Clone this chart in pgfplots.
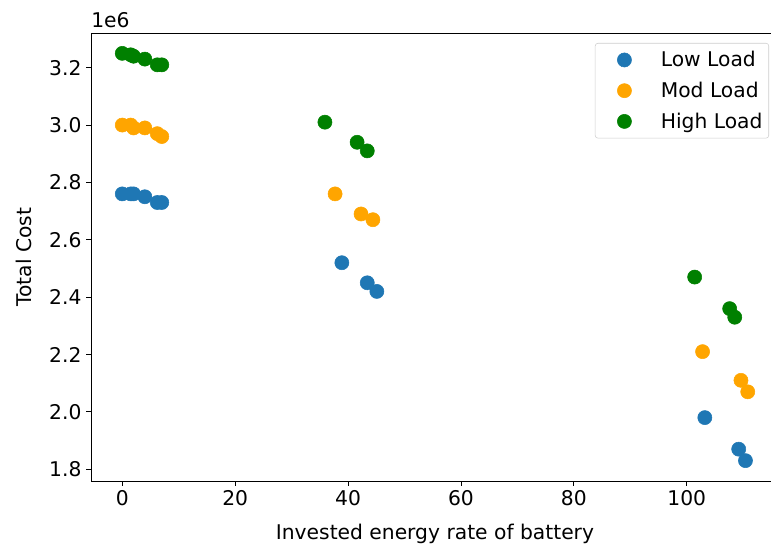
\documentclass[border=0pt]{standalone}
\usepackage{fontspec}
\setmainfont{DejaVu Sans}
\usepackage{pgfplots}
\pgfplotsset{compat=1.18}
\definecolor{cLow}{HTML}{1F77B4}
\definecolor{cMod}{HTML}{FFA500}
\definecolor{cHigh}{HTML}{008000}
\newcommand{\fs}{\fontsize{15.2}{18}\selectfont}
\begin{document}
\begin{tikzpicture}
\begin{axis}[
  at={(0,0)}, anchor=south west,
  scale only axis, width=516pt, height=336pt,
  clip mode=individual,
  xmin=-5.54, xmax=116.34, ymin=1759000, ymax=3321000,
  xtick={0,20,40,60,80,100},
  ytick={1800000,2000000,2200000,2400000,2600000,2800000,3000000,3200000},
  scaled y ticks=base 10:-6,
  ytick scale label code/.code={},
  yticklabel style={/pgf/number format/.cd,fixed,fixed zerofill,precision=1},
  /pgf/number format/assume math mode=true,
  tick align=outside, major tick length=3.65pt,
  tick style={black, line width=0.6pt},
  axis line style={black, line width=0.6pt},
  xtick pos=bottom, ytick pos=left,
  tick label style={font=\fs},
  label style={font=\fs},
  xlabel={Invested energy rate of battery},
  ylabel={Total Cost},
  xlabel style={yshift=-6.5pt},
  ylabel style={yshift=6pt},
  legend cell align=left,
  % marker with empty room to its left, as in the reference legend
  legend image code/.code={\path[#1] plot coordinates {(0pt,0pt)}; \path (-19pt,0pt);},
  legend style={at={(axis description cs:1,1)}, anchor=north east,
    xshift=-7.5pt, yshift=-7.5pt, draw=black!20, rounded corners=2pt,
    font=\fs, row sep=6pt, inner xsep=2.7pt, inner ysep=4pt,
    /tikz/every odd column/.append style={column sep=20pt}},
  every axis plot/.append style={only marks, mark=*, mark size=5.3pt},
]
\addplot[cLow, mark options={draw=cLow, fill=cLow}] coordinates {
  (0,2760000) (1.5,2760000) (2,2760000) (4,2750000) (6.2,2730000) (7,2730000)
  (38.9,2520000) (43.4,2450000) (45.1,2420000)
  (103.2,1980000) (109.2,1870000) (110.4,1830000)};
\addlegendentry{Low Load}
\addplot[cMod, mark options={draw=cMod, fill=cMod}] coordinates {
  (0,3000000) (1.5,3000000) (2,2990000) (4,2990000) (6.2,2970000) (7,2960000)
  (37.7,2760000) (42.3,2690000) (44.4,2670000)
  (102.8,2210000) (109.6,2110000) (110.8,2070000)};
\addlegendentry{Mod Load}
\addplot[cHigh, mark options={draw=cHigh, fill=cHigh}] coordinates {
  (0,3250000) (1.5,3245000) (2,3240000) (4,3230000) (6.2,3210000) (7,3210000)
  (35.9,3010000) (41.6,2940000) (43.4,2910000)
  (101.4,2470000) (107.6,2360000) (108.5,2330000)};
\addlegendentry{High Load}
\node[anchor=south west, inner sep=0pt, yshift=4pt, font=\fs] at (rel axis cs:0,1) {1e6};
\end{axis}
\pgfresetboundingbox
\path (-68.25pt,-48.75pt) rectangle (510pt,360.75pt);
\end{tikzpicture}
\end{document}
